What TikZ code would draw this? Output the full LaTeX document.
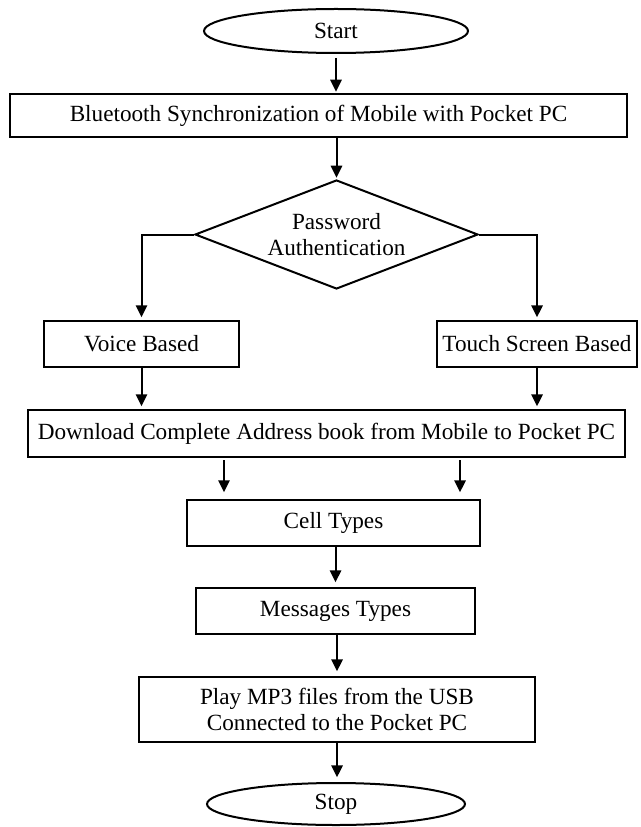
\documentclass[tikz,border=0pt]{standalone}
\usepackage{fontspec}
\setmainfont{Liberation Serif}
\usetikzlibrary{shapes.geometric,arrows.meta}
\begin{document}
\begin{tikzpicture}[x=0.75pt,y=-0.75pt,
  every node/.style={font=\fontsize{17.4}{19.5}\selectfont, line width=1.5pt, inner sep=0pt, align=center},
  box/.style={draw, rectangle},
  term/.style={draw, ellipse},
  decision/.style={draw, diamond, aspect=2.6},
  arr/.style={line width=1.5pt, -{Triangle[length=9pt,width=8.5pt]}, shorten >=1pt}
]
\useasboundingbox (0,0) rectangle (640,827);
\node[term, minimum width=198pt, minimum height=33pt] (start) at (336,31) {Start};
\node[box, minimum width=462.75pt, minimum height=32.25pt] (bt) at (318.5,115.5) {Bluetooth Synchronization of Mobile with Pocket PC};
\node[decision, minimum width=212.25pt, minimum height=81.75pt] (pw) at (336.5,234.5) {Password\\Authentication};
\node[box, minimum width=146.25pt, minimum height=34.5pt] (voice) at (141.5,344) {Voice Based};
\node[box, minimum width=150pt, minimum height=34.5pt] (touch) at (537,344) {Touch Screen Based};
\node[box, minimum width=447.75pt, minimum height=35.25pt] (dl) at (326.5,433.5) {Download Complete Address book from Mobile to Pocket PC};
\node[box, minimum width=219.75pt, minimum height=34.5pt] (cell) at (333.5,523) {Cell Types};
\node[box, minimum width=209.25pt, minimum height=34.5pt] (msg) at (335.5,611) {Messages Types};
\node[box, minimum width=297pt, minimum height=48.75pt] (play) at (337,709.5) {Play MP3 files from the USB\\Connected to the Pocket PC};
\node[term, minimum width=193.5pt, minimum height=31.5pt] (stop) at (336,804) {Stop};
\coordinate (c1) at (224,0);
\coordinate (c2) at (460,0);
\draw[arr, shorten <=3pt] (start.south) -- (start.south |- bt.north);
\draw[arr] (bt.south -| pw.north) -- (pw.north);
\draw[arr, shorten >=2pt] (pw.west) -| (voice.north);
\draw[arr, shorten >=2pt] (pw.east) -| (touch.north);
\draw[arr, shorten >=2pt] (voice.south) -- (voice.south |- dl.north);
\draw[arr, shorten >=2pt] (touch.south) -- (touch.south |- dl.north);
\draw[arr, shorten <=1.5pt, shorten >=5pt] (dl.south -| c1) -- (cell.north -| c1);
\draw[arr, shorten <=1.5pt, shorten >=5pt] (dl.south -| c2) -- (cell.north -| c2);
\draw[arr, shorten >=3.5pt] (msg.north |- cell.south) -- (msg.north);
\draw[arr, shorten >=3.5pt] (msg.south -| play.north) -- (play.north);
\draw[arr, shorten >=3.5pt] (play.south) -- (play.south |- stop.north);
\end{tikzpicture}
\end{document}
